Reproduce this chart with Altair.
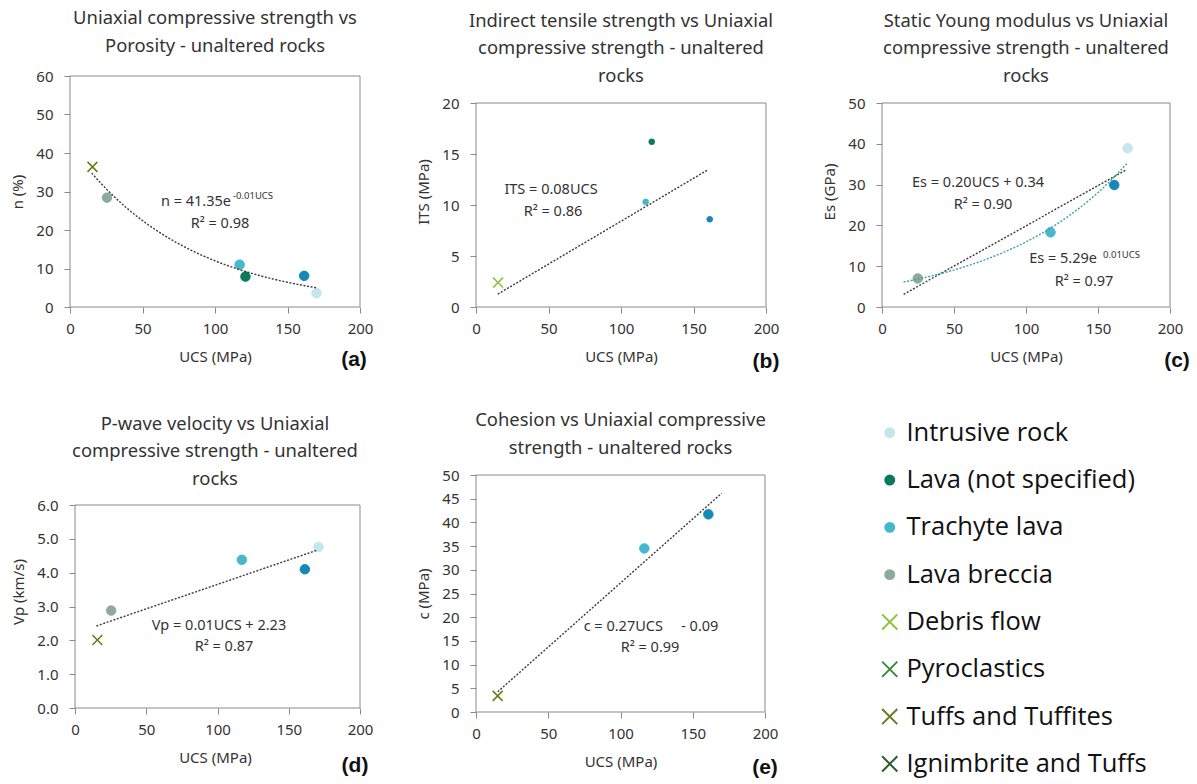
import altair as alt
import numpy as np
import pandas as pd

FONT = "Noto Sans"
TXT = "#333333"
GRAY = "#8a8a8a"

CATEGORIES = ["Intrusive rock", "Lava (not specified)", "Trachyte lava", "Lava breccia",
              "Debris flow", "Pyroclastics", "Tuffs and Tuffites", "Ignimbrite and Tuffs",
              "Lava (other)"]
COLORS = ["#c4e6ed", "#0b7a5c", "#45b8cc", "#8cab9b",
          "#8cc43c", "#3d8c3a", "#6b7d1c", "#2d5e2a",
          "#1489b9"]
X_PATH = "M-1.7,-1.7L1.7,1.7M-1.7,1.7L1.7,-1.7"
SHAPES = ["circle"] * 4 + [X_PATH] * 4 + ["circle"]
CROSS_CATS = CATEGORIES[4:8]
CIRCLE_CATS = CATEGORIES[:4] + CATEGORIES[8:]
LEGEND_ITEMS = CATEGORIES[:8]
UCS_TICKS = [0, 50, 100, 150, 200]

# (a) porosity
A_CAT = ["Tuffs and Tuffites", "Lava breccia", "Trachyte lava", "Lava (not specified)", "Lava (other)", "Intrusive rock"]
A_UCS = [15.5, 25.5, 117, 121, 161.5, 170]
A_N = [36.4, 28.4, 11.0, 7.9, 8.1, 3.6]
A_RANGE = [15, 170]
# (b) indirect tensile strength
B_CAT = ["Debris flow", "Trachyte lava", "Lava (not specified)", "Lava (other)"]
B_UCS = [15.2, 117, 121.2, 161.2]
B_ITS = [2.4, 10.3, 16.2, 8.6]
B_RANGE = [15, 160]
# (c) static Young modulus
C_CAT = ["Lava breccia", "Trachyte lava", "Lava (other)", "Intrusive rock"]
C_UCS = [24.8, 117, 161.3, 170.6]
C_ES = [7.0, 18.3, 29.9, 38.9]
C_RANGE = [15, 170]
# (d) P-wave velocity
D_CAT = ["Tuffs and Tuffites", "Lava breccia", "Trachyte lava", "Lava (other)", "Intrusive rock"]
D_UCS = [15.7, 25.4, 117.1, 161.3, 170.9]
D_VP = [2.01, 2.88, 4.38, 4.10, 4.76]
D_RANGE = [15, 170]
# (e) cohesion
E_CAT = ["Tuffs and Tuffites", "Trachyte lava", "Lava (other)"]
E_UCS = [15.0, 116.5, 160.8]
E_C = [3.4, 34.5, 41.7]
E_RANGE = [15, 170]


def lin_fit(x, y, rng, origin=False):
    x = np.asarray(x, float); y = np.asarray(y, float)
    if origin:
        m, b = float(x @ y / (x @ x)), 0.0
    else:
        m, b = np.polyfit(x, y, 1)
    xs = np.array(rng, float)
    return pd.DataFrame({"ucs": xs, "val": m * xs + b})


def exp_fit(x, y, rng):
    x = np.asarray(x, float); y = np.asarray(y, float)
    k, la = np.polyfit(x, np.log(y), 1)
    xs = np.linspace(rng[0], rng[1], 60)
    return pd.DataFrame({"ucs": xs, "val": np.exp(la) * np.exp(k * xs)})


legend = alt.Legend(values=LEGEND_ITEMS, title=None)


def enc_common():
    return dict(
        color=alt.Color("cat:N", scale=alt.Scale(domain=CATEGORIES, range=COLORS), legend=legend),
        stroke=alt.Stroke("cat:N", scale=alt.Scale(domain=CATEGORIES, range=COLORS), legend=legend),
        shape=alt.Shape("cat:N", scale=alt.Scale(domain=CATEGORIES, range=SHAPES), legend=legend),
    )


def text_layer(txt, px, py, size=14.5, align="center", font=FONT, weight="normal", color=TXT):
    return alt.Chart(pd.DataFrame({"t": [txt]})).mark_text(
        font=font, fontSize=size, align=align, baseline="middle", fontWeight=weight, color=color
    ).encode(x=alt.value(px), y=alt.value(py), text="t:N")


def panel(cats, ucs, vals, ytitle, ymax, ystep, yfmt, w, h, hvis, wvis, title, toff,
          csize, xsize, fits, notes, tag, tagpos):
    """Cell of w x h pixels; the framed plot occupies the bottom-right wvis x hvis of it."""
    dy = h - hvis
    dx = w - wvis
    df = pd.DataFrame({"cat": cats, "ucs": ucs, "val": vals})
    yticks = [round(i * ystep, 3) for i in range(int(round(ymax / ystep)) + 1)]
    ydom = [0, ymax * h / hvis]
    xdom = [-200 * dx / wvis, 200]
    xenc = alt.X("ucs:Q", scale=alt.Scale(domain=xdom, nice=False, zero=False),
                 axis=alt.Axis(values=UCS_TICKS, title="UCS (MPa)", offset=0))
    yenc = alt.Y("val:Q", scale=alt.Scale(domain=ydom, nice=False),
                 axis=alt.Axis(values=yticks, format=yfmt, title=ytitle, offset=-dx))
    box = pd.DataFrame({"ucs": [0, 0, 0, 200], "ucs2": [200, 200, 0, 200],
                        "val": [0, ymax, 0, 0], "val2": [0, ymax, ymax, ymax]})
    frame = alt.Chart(box).mark_rule(color=GRAY, strokeWidth=1).encode(
        x=xenc, x2="ucs2:Q", y=yenc, y2="val2:Q")
    base = alt.Chart(df).encode(x=xenc, y=yenc, **enc_common())
    circles = base.transform_filter(alt.FieldOneOfPredicate(field="cat", oneOf=CIRCLE_CATS)).mark_point(
        filled=True, opacity=1, size=csize, strokeWidth=1)
    crosses = base.transform_filter(alt.FieldOneOfPredicate(field="cat", oneOf=CROSS_CATS)).mark_point(
        filled=False, opacity=1, size=xsize, strokeWidth=1.6)
    layers = [frame, circles, crosses]
    for fdf, col in fits:
        layers.append(alt.Chart(fdf).mark_line(strokeDash=[2, 1.6], strokeWidth=1.4, color=col).encode(
            x=xenc, y=yenc))
    for n in notes:
        t = list(n)
        t[1] += dx
        t[2] += dy
        layers.append(text_layer(*t))
    layers.append(text_layer(tag, tagpos[0] + dx, tagpos[1] + dy, size=21,
                             font="Liberation Sans", weight="bold", color="#111"))
    return alt.layer(*layers).properties(
        width=w, height=h,
        title=alt.TitleParams(text=title, font=FONT, fontSize=18.4, fontWeight="normal", color=TXT,
                              lineHeight=27.5, offset=toff - dy, anchor="middle"))


DARK = "#3a3a3a"
TEAL = "#3c9fae"

pa = panel(A_CAT, A_UCS, A_N, "n (%)", 60, 10, "d", 290, 231, 231, 290,
           ["Uniaxial compressive strength vs", "Porosity - unaltered rocks"], 14, 90, 34,
           [(exp_fit(A_UCS, A_N, A_RANGE), DARK)],
           [("n = 41.35e", 161, 126, 14.5, "right"), ("-0.01UCS", 163, 120, 9.5, "left"),
            ("R² = 0.98", 150, 148, 14.5)],
           "(a)", (284, 284))

pb = panel(B_CAT, B_UCS, B_ITS, "ITS (MPa)", 20, 5, "d", 290, 231, 204, 290,
           ["Indirect tensile strength vs Uniaxial", "compressive strength  - unaltered", "rocks"], 18, 32, 34,
           [(lin_fit(B_UCS, B_ITS, B_RANGE, origin=True), DARK)],
           [("ITS = 0.08UCS", 75, 87, 14.5), ("R² = 0.86", 77, 109, 14.5)],
           "(b)", (290, 259))

pc = panel(C_CAT, C_UCS, C_ES, "Es (GPa)", 50, 10, "d", 288, 231, 204, 288,
           ["Static Young modulus vs Uniaxial", "compressive strength  - unaltered", "rocks"], 18, 90, 34,
           [(lin_fit(C_UCS, C_ES, C_RANGE), DARK), (exp_fit(C_UCS, C_ES, C_RANGE), TEAL)],
           [("Es = 0.20UCS + 0.34", 96, 80, 14.5), ("R² = 0.90", 101, 102, 14.5),
            ("Es = 5.29e", 215, 156, 14.5, "right"), ("0.01UCS", 221, 152, 9.5, "left"),
            ("R² = 0.97", 202, 179, 14.5)],
           "(c)", (295, 258))

pd_ = panel(D_CAT, D_UCS, D_VP, "Vp (km/s)", 6, 1, ".1f", 290, 233, 203, 285,
            ["P-wave velocity vs Uniaxial", "compressive strength  - unaltered", "rocks"], 17, 90, 34,
            [(lin_fit(D_UCS, D_VP, D_RANGE), DARK)],
            [("Vp = 0.01UCS + 2.23", 144, 121, 14.5), ("R² = 0.87", 149, 142, 14.5)],
            "(d)", (280, 261))

pe = panel(E_CAT, E_UCS, E_C, "c (MPa)", 50, 5, "d", 289, 237, 237, 289,
           ["Cohesion vs Uniaxial compressive", "strength - unaltered rocks"], 11, 90, 34,
           [(lin_fit(E_UCS, E_C, E_RANGE), DARK)],
           [("c = 0.27UCS\u2003 - 0.09", 175, 152, 14.5), ("R² = 0.99", 174, 173, 14.5)],
           "(e)", (289, 293))

chart = alt.concat(pa, pb, pc, pd_, pe, columns=3, spacing={"row": 168, "column": 116},
                   bounds="flush").properties(
    padding={"left": 10, "top": 9, "right": 0, "bottom": 0}
).configure_view(
    stroke=None, strokeWidth=0
).configure_axis(
    labelFont=FONT, labelFontSize=15, labelColor=TXT, titleFont=FONT, titleFontSize=15,
    titleFontWeight="normal", titleColor=TXT, domain=False, tickColor=GRAY,
    tickSize=6, grid=False, labelFlush=False, labelOverlap=False
).configure_axisX(labelPadding=8, titlePadding=13).configure_axisY(labelPadding=11, titlePadding=10).configure_legend(
    orient="none", legendX=807, legendY=344, padding=0, labelFont="Open Sans", labelFontSize=25.5,
    labelColor="#111111", symbolSize=80, symbolStrokeWidth=2, rowPadding=20.3, labelOffset=4, labelLimit=0
)

chart.save("out.html", embed_options={"renderer": "svg", "actions": False})
